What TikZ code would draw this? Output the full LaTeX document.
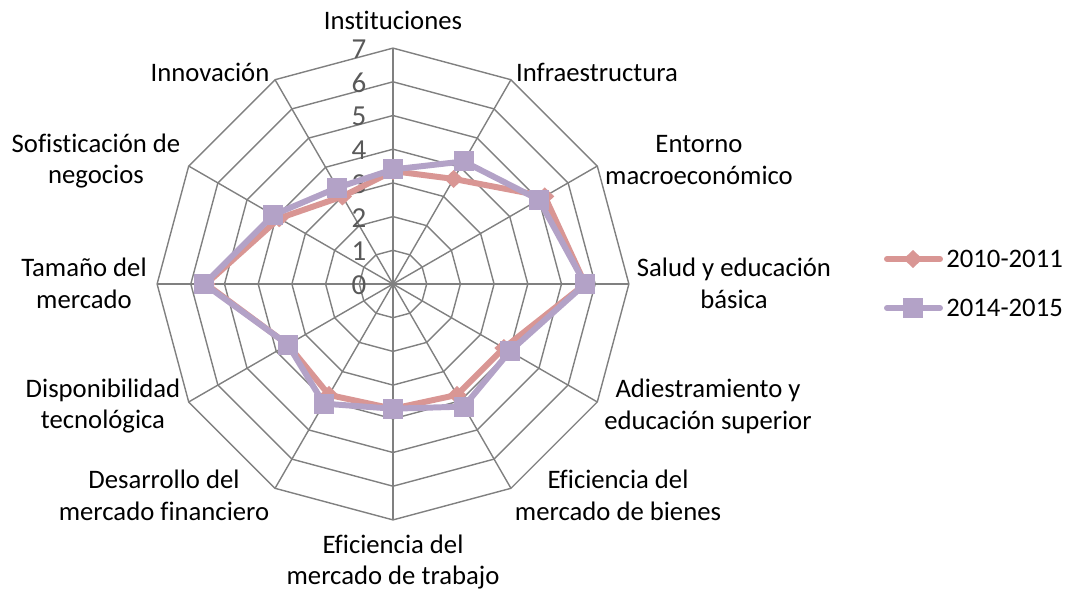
\documentclass[tikz,border=0pt]{standalone}
\usepackage{fontspec}
\setmainfont{Carlito}[Ligatures=NoCommon]
\usetikzlibrary{shapes.geometric}
\definecolor{serieA}{RGB}{217,150,148}
\definecolor{serieB}{RGB}{179,162,199}
\definecolor{gridgray}{RGB}{128,128,128}
\definecolor{tickgray}{RGB}{89,89,89}

\begin{document}
\begin{tikzpicture}[x=0.02cm,y=0.02cm]
		\tikzstyle{spoke}=[draw=gridgray,line width=0.8pt]
		\tikzstyle{axislabel}=[align=center,font=\fontsize{15.2}{18.1}\selectfont,inner sep=0pt]
		\tikzstyle{tick}=[text=tickgray,font=\fontsize{16.5}{18}\selectfont,inner sep=0pt]
		\tikzstyle{lineA}=[draw=serieA,line width=3.4pt,line join=round,line cap=round]
		\tikzstyle{lineB}=[draw=serieB,line width=3.4pt,line join=round,line cap=round]
		\tikzstyle{markA}=[fill=serieA,shape=diamond,inner sep=0pt,minimum width=11pt,minimum height=10.4pt]
		\tikzstyle{markB}=[fill=serieB,shape=rectangle,inner sep=0pt,minimum size=11.4pt]
		\def\u{33.7}
		
		\useasboundingbox (-393,-309) rectangle (672,284);
		
		\foreach \r in {1,...,7}
			\draw[spoke] (90:{\r*\u}) \foreach \k in {1,...,11}{ -- ({90-30*\k}:{\r*\u})} -- cycle;
		\foreach \k in {0,...,11}
			\draw[spoke] (0,0) -- ({90-30*\k}:{7*\u});
		
		\foreach \r in {0,...,7}
			\node[tick](t\r) at (-34,{\r*\u-1}){\r};
		
		\node[axislabel](inst) at (0,264){Instituciones};
		\node[axislabel](infra) at (204,212){Infraestructura};
		\node[axislabel](ent) at (306,124){Entorno\\macroeconómico};
		\node[axislabel](sal) at (341,1){Salud y educación\\básica};
		\node[axislabel](adi) at (315,-122){Adiestramiento y\\educación superior};
		\node[axislabel](efb) at (225,-211){Eficiencia del\\mercado de bienes};
		\node[axislabel](eft) at (0,-278){Eficiencia del\\mercado de trabajo};
		\node[axislabel](des) at (-229,-211){Desarrollo del\\mercado financiero};
		\node[axislabel](dis) at (-290,-122){Disponibilidad\\tecnológica};
		\node[axislabel](tam) at (-309,1){Tamaño del\\mercado};
		\node[axislabel](sof) at (-297,123){Sofisticación de\\negocios};
		\node[axislabel](inn) at (-183,212){Innovación};
		
		% 2010-2011
		\foreach \v [count=\k from 0] in {3.35,3.6,5.2,5.7,3.8,3.8,3.7,3.8,3.6,5.55,3.9,3.0}
			\coordinate (a\k) at ({90-30*\k}:{\v*\u});
		\draw[lineA] (a0) -- (a1) -- (a2) -- (a3) -- (a4) -- (a5) -- (a6) -- (a7) -- (a8) -- (a9) -- (a10) -- (a11) -- cycle;
		\foreach \k in {0,...,11}
			\node[markA](ma\k) at (a\k){};
		
		% 2014-2015
		\foreach \v [count=\k from 0] in {3.4,4.2,5.0,5.7,4.0,4.2,3.7,4.1,3.6,5.6,4.1,3.3}
			\coordinate (b\k) at ({90-30*\k}:{\v*\u});
		\draw[lineB] (b0) -- (b1) -- (b2) -- (b3) -- (b4) -- (b5) -- (b6) -- (b7) -- (b8) -- (b9) -- (b10) -- (b11) -- cycle;
		\foreach \k in {0,...,11}
			\node[markB](mb\k) at (b\k){};
		
		\coordinate (la0) at (494,25);
		\coordinate (la1) at (547,25);
		\draw[lineA] (la0) -- (la1);
		\node[markA](lma) at (520,25){};
		\node[axislabel,anchor=west](leyA) at (553,25){2010-2011};
		
		\coordinate (lb0) at (494,-24);
		\coordinate (lb1) at (547,-24);
		\draw[lineB] (lb0) -- (lb1);
		\node[markB](lmb) at (520,-24){};
		\node[axislabel,anchor=west](leyB) at (553,-24){2014-2015};
\end{tikzpicture}
\end{document}
